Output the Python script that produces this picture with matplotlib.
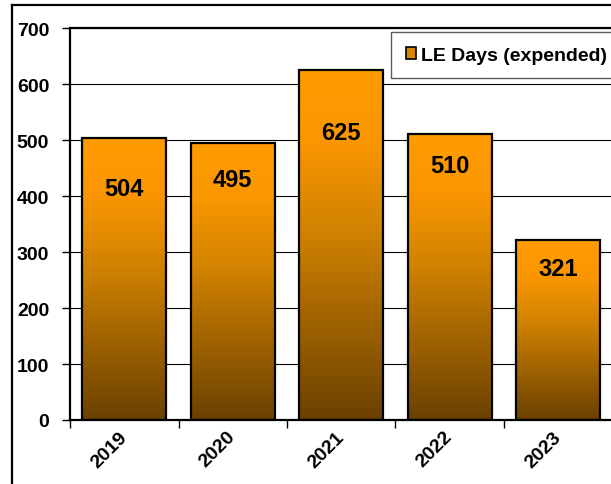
import numpy as np
import matplotlib
matplotlib.use('Agg')
import matplotlib.pyplot as plt
from matplotlib.colors import LinearSegmentedColormap
from matplotlib.patches import Patch
from matplotlib.lines import Line2D

#############################################################################################
# data
years = ['2019', '2020', '2021', '2022', '2023']
days = [504, 495, 625, 510, 321]
label_y = [414, 429, 514, 454, 270]   # where the value labels sit (data units)
series_name = 'LE Days (expended)'

#############################################################################################
plt.rcParams['font.family'] = ['Liberation Sans', 'DejaVu Sans']
plt.rcParams['font.weight'] = 'bold'

W, H = 611, 485
fig = plt.figure(figsize=(W/100., H/100.), dpi=100)
ax = fig.add_axes([70./W, 1-421./H, 542.5/W, 392./H])

# orange at the top of each bar fading to brown at the bottom
cmap = LinearSegmentedColormap.from_list('bar_grad', [(0.0, '#6B4100'), (0.55, '#D28300'), (0.8, '#FA9600'), (1.0, '#FF9C00')])
grad = np.linspace(0, 1, 256).reshape(-1, 1)

bar_w = 0.775
x = np.arange(len(years))
for xi, v in zip(x, days):
	ax.imshow(grad, cmap=cmap, origin='lower', aspect='auto', extent=(xi-bar_w/2, xi+bar_w/2, 0, v), zorder=2)
ax.bar(x, days, width=bar_w, facecolor='none', edgecolor='black', linewidth=1.6, zorder=3)

for xi, ly, v in zip(x, label_y, days):
	ax.text(xi, ly, str(v), ha='center', va='center', fontsize=17, fontweight='bold', zorder=4)

ax.set_xlim(-0.5, len(years)-0.5)
ax.set_ylim(0, 700)
ax.set_yticks(range(0, 701, 100))
ax.tick_params(axis='y', labelsize=14, length=6, width=1, direction='out', pad=9)
ax.yaxis.grid(True, color='black', linewidth=0.8, zorder=1)
ax.set_axisbelow(True)

ax.set_xticks(x)
ax.set_xticklabels(years, rotation=45, ha='right', rotation_mode='anchor', fontsize=14)
ax.tick_params(axis='x', length=0, pad=10)
ax.set_xticks(np.arange(-0.5, len(years)), minor=True)
ax.tick_params(axis='x', which='minor', length=6, width=1)
for lbl in ax.get_xticklabels():
	lbl.set_va('center')

for s in ['left', 'bottom', 'top', 'right']:
	ax.spines[s].set_linewidth(1.6)

handle = Patch(facecolor='#D88800', edgecolor='black', linewidth=1.2)
leg = fig.legend([handle], [series_name], loc='upper left', bbox_to_anchor=(391./W, 1-33./H),
	fontsize=14, frameon=True, fancybox=False, edgecolor='#333333', handlelength=0.55, handleheight=0.55,
	handletextpad=0.25, borderpad=0.75, borderaxespad=0)
leg.get_frame().set_linewidth(1.0)

# outer chart border (cut off at right and bottom)
fig.add_artist(Line2D([12./W, 12./W], [0, 1-6./H], color='black', linewidth=1.6))
fig.add_artist(Line2D([12./W, 1], [1-6./H, 1-6./H], color='black', linewidth=1.6))

plt.savefig('out.png', dpi=100)
